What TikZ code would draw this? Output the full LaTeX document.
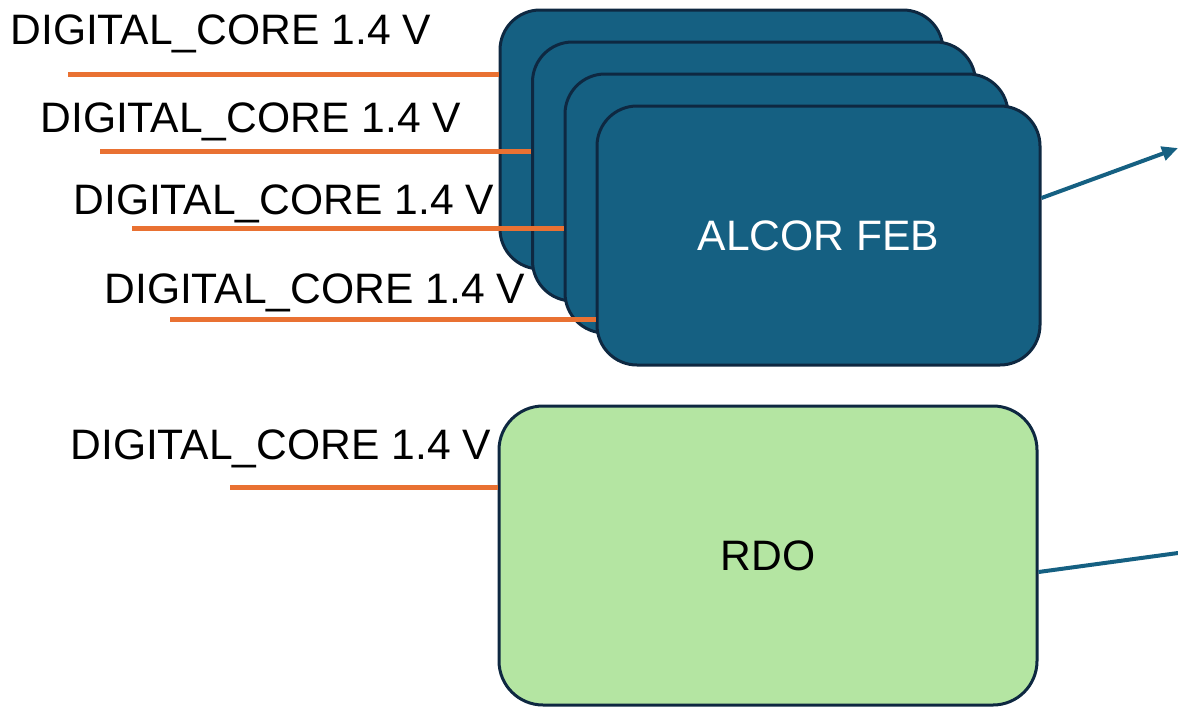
\documentclass[tikz,border=0pt]{standalone}
\usepackage{fontspec}
\setmainfont{Liberation Sans}
\usetikzlibrary{arrows.meta}
\definecolor{febblue}{HTML}{156082}
\definecolor{edge}{HTML}{0E2841}
\definecolor{rdogreen}{HTML}{B4E5A2}
\definecolor{supply}{HTML}{E97132}

\begin{document}
\begin{tikzpicture}[x=0.5pt, y=-0.5pt,
  feb/.style={draw=edge, fill=febblue, line width=1.5pt, rounded corners=20pt,
    minimum width=221.5pt, minimum height=129.5pt, inner sep=0pt,
    text=white, font=\fontsize{21.3}{25}\selectfont},
  board/.style={draw=edge, fill=rdogreen, line width=1.5pt, rounded corners=22pt,
    minimum width=269pt, minimum height=149.5pt, inner sep=0pt,
    font=\fontsize{21.3}{25}\selectfont},
  rail/.style={anchor=base west, inner sep=0pt, font=\fontsize{21.3}{25}\selectfont},
  pwr/.style={draw=supply, line width=2.5pt},
  link/.style={draw=febblue, line width=2pt}
]
\useasboundingbox (0,0) rectangle (1178,707);

% stacked front-end boards
\node[feb] (feb1) at (721.5,139.5) {};
\node[feb] (feb2) at (754,171.5) {};
\node[feb] (feb3) at (786.5,203.5) {};
\node[feb] (feb4) at (818.5,235.5) {ALCOR FEB};

\node[board] (rdo) at (768,555.5) {RDO};

% supply labels
\node[rail] (lbl1) at (10,44) {DIGITAL\_CORE 1.4 V};
\node[rail] (lbl2) at (40,132) {DIGITAL\_CORE 1.4 V};
\node[rail] (lbl3) at (73,214) {DIGITAL\_CORE 1.4 V};
\node[rail] (lbl4) at (104,303) {DIGITAL\_CORE 1.4 V};
\node[rail] (lbl5) at (70,459) {DIGITAL\_CORE 1.4 V};

\coordinate (s1) at (68,74);
\coordinate (s2) at (100,151);
\coordinate (s3) at (132,228);
\coordinate (s4) at (170,319);
\coordinate (s5) at (230,487);

\draw[pwr] (s1) -- (s1 -| feb1.west);
\draw[pwr] (s2) -- (s2 -| feb2.west);
\draw[pwr] (s3) -- (s3 -| feb3.west);
\draw[pwr] (s4) -- (s4 -| feb4.west);
\draw[pwr] (s5) -- (s5 -| rdo.west);

% outputs
\coordinate (febout) at (1178,148);
\coordinate (rdoout) at (1178,553);
\draw[link, -{Triangle[length=8pt,width=7pt]}] (feb4.east |- 0,198) -- (febout);
\draw[link] (rdo.east |- 0,572) -- (rdoout);
\end{tikzpicture}
\end{document}
